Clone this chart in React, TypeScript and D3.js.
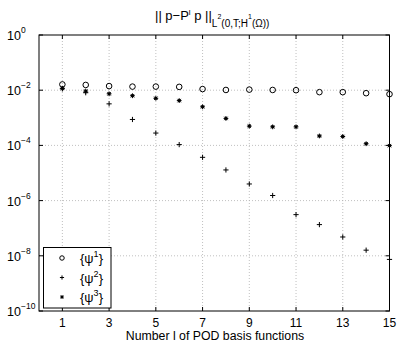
import React from "react";
import * as d3 from "d3";

const basisCounts = [1, 2, 3, 4, 5, 6, 7, 8, 9, 10, 11, 12, 13, 14, 15];
const errPsi1 = [0.0162, 0.0155, 0.0141, 0.0135, 0.0135, 0.0132, 0.011, 0.0102, 0.0105, 0.0102, 0.01, 0.0085, 0.0085, 0.0078, 0.0072];
const errPsi2 = [0.0112, 0.0081, 0.0032, 0.00087, 0.00028, 0.000107, 0.000037, 0.0000129, 0.000004, 0.00000153, 0.00000031, 0.000000135, 0.000000048, 0.000000016, 0.0000000074];
const errPsi3 = [0.0118, 0.0093, 0.0074, 0.0063, 0.0051, 0.0042, 0.0025, 0.00095, 0.0005, 0.00047, 0.00047, 0.00022, 0.00021, 0.000115, 0.000098];
const xTicks = [1, 3, 5, 7, 9, 11, 13, 15];
const yTickExps = [0, -2, -4, -6, -8, -10];
const legendLabels = ["1", "2", "3"];

const W = 397, H = 342;
const L = 39, R = 389.5, T = 35, B = 311;

export default function App() {
  const x = d3.scaleLinear().domain([0, 15]).range([L, R]);
  const y = d3.scaleLog().domain([1e-10, 1]).range([B, T]);
  const font = "'Liberation Sans', Arial, Helvetica, sans-serif";

  const circle = (cx: number, cy: number, k: string, s = 1) => (
    <circle key={k} cx={cx} cy={cy} r={2.8 * s} fill="none" stroke="#000" strokeWidth={1} />
  );
  const plus = (cx: number, cy: number, k: string, s = 1) => (
    <path key={k} d={`M${cx - 2.6 * s},${cy}H${cx + 2.6 * s}M${cx},${cy - 2.6 * s}V${cy + 2.6 * s}`} stroke="#000" strokeWidth={1} />
  );
  const star = (cx: number, cy: number, k: string, s = 1) => {
    const a = 2.4 * s, b = 1.7 * s;
    return (
      <g key={k}>
        <path d={`M${cx - a},${cy}H${cx + a}M${cx},${cy - a}V${cy + a}M${cx - b},${cy - b}L${cx + b},${cy + b}M${cx - b},${cy + b}L${cx + b},${cy - b}`} stroke="#000" strokeWidth={1} />
        <circle cx={cx} cy={cy} r={1.5 * s} fill="#000" />
      </g>
    );
  };

  const lx = 43.5, ly = 247.5, lw = 67.5, lh = 60.5;
  const markers = [circle, plus, star];

  return (
    <svg width={W} height={H} style={{ position: "absolute", left: 0, top: 0, background: "#fff" }} fontFamily={font}>
      <rect x={0} y={0} width={W} height={H} fill="#fff" />
      {/* grid */}
      {xTicks.filter((t) => t < 15).map((t) => (
        <line key={"gx" + t} x1={x(t)} x2={x(t)} y1={T} y2={B} stroke="#b0b0b0" strokeWidth={0.8} strokeDasharray="1,2" />
      ))}
      {yTickExps.filter((e) => e !== 0 && e !== -10).map((e) => (
        <line key={"gy" + e} x1={L} x2={R} y1={y(Math.pow(10, e))} y2={y(Math.pow(10, e))} stroke="#b0b0b0" strokeWidth={0.8} strokeDasharray="1,2" />
      ))}
      {/* ticks */}
      {xTicks.map((t) => (
        <g key={"tx" + t}>
          <line x1={x(t)} x2={x(t)} y1={B} y2={B - 4} stroke="#000" />
          <line x1={x(t)} x2={x(t)} y1={T} y2={T + 4} stroke="#000" />
          <text x={x(t)} y={B + 15.5} fontSize={12} textAnchor="middle" fill="#000">{t}</text>
        </g>
      ))}
      {yTickExps.map((e) => {
        const yy = y(Math.pow(10, e));
        return (
          <g key={"ty" + e}>
            <line x1={L} x2={L + 4} y1={yy} y2={yy} stroke="#000" />
            <line x1={R} x2={R - 4} y1={yy} y2={yy} stroke="#000" />
            <text x={7} y={yy + 5} fontSize={12.5} textAnchor="start" fill="#000">10</text>
            <text x={21} y={yy - 2} fontSize={8.5} textAnchor="start" fill="#000">{e === 0 ? "0" : "\u2212" + Math.abs(e)}</text>
          </g>
        );
      })}
      {/* frame */}
      <rect x={L} y={T} width={R - L} height={B - T} fill="none" stroke="#000" strokeWidth={1} />
      {/* data */}
      {basisCounts.map((l, i) => circle(x(l), y(errPsi1[i]), "c" + i))}
      {basisCounts.map((l, i) => plus(x(l), y(errPsi2[i]), "p" + i))}
      {basisCounts.map((l, i) => star(x(l), y(errPsi3[i]), "s" + i))}
      {/* legend */}
      <rect x={lx} y={ly} width={lw} height={lh} fill="#fff" stroke="#000" strokeWidth={1} />
      {legendLabels.map((lab, i) => {
        const yy = 258 + i * 19.5;
        return (
          <g key={"lg" + i}>
            {markers[i](62, yy, "lm" + i, 0.8)}
            <text x={80} y={yy + 5} fontSize={13} fill="#000">
              {"{\u03C8"}
              <tspan dy={-6} fontSize={9}>{lab}</tspan>
              <tspan dy={6}>{"}"}</tspan>
            </text>
          </g>
        );
      })}
      {/* x label */}
      <text x={215} y={339.5} fontSize={12.3} textAnchor="middle" fill="#000">Number l of POD basis functions</text>
      {/* title */}
      <text x={155} y={20} fontSize={13} fill="#000">
        {"|| p\u2212P"}
        <tspan dy={-5} fontSize={8}>l</tspan>
        <tspan dy={5}>{" p ||"}</tspan>
        <tspan dy={7} fontSize={10}>L</tspan>
        <tspan dy={-8} fontSize={7}>2</tspan>
        <tspan dy={8} fontSize={10}>(0,T;H</tspan>
        <tspan dy={-8} fontSize={7}>1</tspan>
        <tspan dy={8} fontSize={10}>(Ω))</tspan>
      </text>
    </svg>
  );
}
